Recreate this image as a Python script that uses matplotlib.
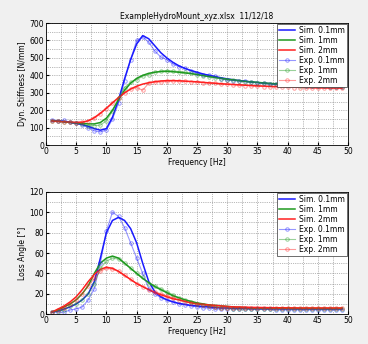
import numpy as np
import matplotlib
matplotlib.use("Agg")
import matplotlib.pyplot as plt
from matplotlib.ticker import MultipleLocator

freq = np.arange(1, 50)

# dynamic stiffness [N/mm]
stiff_sim_01 = [140, 138, 135, 130, 125, 118, 108, 95, 86, 95, 160, 260, 380, 490, 580, 628, 610, 570, 530, 500,
                475, 455, 440, 428, 418, 408, 400, 393, 386, 380, 375, 370, 366, 362, 359, 356, 353, 351, 349, 347,
                345, 343, 342, 340, 339, 338, 337, 336, 335]
stiff_sim_1 = [140, 137, 134, 131, 128, 125, 122, 122, 130, 155, 200, 260, 315, 355, 383, 400, 412, 418, 422, 423,
               421, 418, 414, 410, 405, 399, 393, 388, 383, 378, 374, 370, 366, 363, 360, 357, 354, 352, 350, 348,
               346, 344, 342, 341, 339, 338, 337, 336, 335]
stiff_sim_2 = [138, 136, 134, 132, 131, 132, 140, 158, 183, 212, 243, 273, 300, 322, 338, 350, 358, 364, 368, 370,
               370, 369, 367, 365, 363, 360, 357, 355, 352, 350, 348, 346, 344, 342, 340, 339, 337, 336, 335, 334,
               333, 332, 331, 330, 329, 329, 328, 328, 327]
stiff_exp_01 = [145, 140, 142, 130, 125, 115, 100, 82, 76, 86, 150, 240, 370, 490, 600, 620, 590, 540, 505, 490,
                465, 450, 440, 425, 412, 405, 403, 395, 380, 372, 370, 368, 368, 360, 358, 355, 352, 350, 348, 345,
                345, 343, 340, 340, 338, 337, 336, 336, 335]
stiff_exp_1 = [140, 138, 135, 130, 125, 120, 112, 112, 115, 140, 195, 270, 330, 360, 375, 395, 405, 418, 425, 428,
               425, 422, 418, 412, 405, 398, 392, 387, 380, 375, 372, 368, 364, 360, 358, 355, 352, 350, 348, 346,
               344, 342, 340, 340, 338, 337, 336, 335, 335]
stiff_exp_2 = [140, 138, 135, 132, 128, 130, 138, 155, 180, 210, 240, 270, 300, 320, 330, 315, 355, 360, 362, 365,
               368, 368, 366, 364, 362, 358, 356, 354, 350, 348, 346, 344, 342, 340, 338, 336, 335, 334, 333, 332,
               330, 330, 329, 328, 327, 326, 326, 325, 325]

# loss angle [deg]
loss_sim_01 = [2, 3, 5, 7, 10, 14, 20, 32, 55, 80, 92, 95, 92, 84, 70, 50, 32, 22, 17, 14,
               12, 10.5, 9.5, 8.5, 8, 7.5, 7, 6.5, 6, 6, 5.5, 5.5, 5.5, 5.3, 5.2, 5.2, 5.1, 5.1, 5, 5,
               5, 5, 5, 5, 5, 5, 5, 5, 5]
loss_sim_1 = [2, 4, 7, 10, 14, 20, 28, 40, 50, 55, 57, 55, 50, 45, 40, 35, 31, 27, 24, 21,
              18, 16, 14, 12.5, 11, 10, 9, 8.5, 8, 7.5, 7, 6.5, 6.3, 6, 6, 5.9, 5.8, 5.8, 5.7, 5.7,
              5.6, 5.6, 5.6, 5.5, 5.5, 5.5, 5.5, 5.5, 5.5]
loss_sim_2 = [2, 5, 8, 12, 17, 24, 32, 39, 44, 46, 45, 42, 38, 34, 30, 27, 24, 21, 19, 17,
              15, 14, 12.5, 11, 10, 9.5, 9, 8.5, 8, 7.5, 7, 7, 6.8, 6.6, 6.5, 6.4, 6.3, 6.2, 6.2, 6.1,
              6.1, 6, 6, 6, 6, 6, 6, 6, 6]
loss_exp_01 = [2, 2, 2, 4, 5, 7, 14, 25, 50, 82, 100, 96, 85, 70, 55, 40, 25, 20, 16, 14,
               12, 10, 9, 8, 7, 6, 6, 5, 5, 5, 5, 5, 5, 4.5, 4.5, 4.5, 4.5, 4, 4, 4,
               4, 4, 4, 4, 4, 4, 4, 4, 4]
loss_exp_1 = [2, 3, 4, 8, 10, 14, 20, 30, 45, 52, 55, 54, 50, 45, 40, 36, 30, 28, 25, 22,
              19, 16, 14, 12, 10, 9, 8, 7, 6, 6, 5, 5, 5, 5, 5, 5, 5, 5, 5, 5,
              5, 5, 5, 5, 5, 5, 5, 5, 5]
loss_exp_2 = [2, 4, 6, 10, 14, 20, 28, 35, 42, 45, 44, 42, 38, 34, 30, 27, 24, 22, 20, 18,
              16, 14, 12, 11, 10, 9, 8, 7, 6, 6, 6, 6, 5.5, 5.5, 5.5, 5.5, 5.5, 5.5, 5.5, 5.5,
              5.5, 5.5, 5.5, 5.5, 5.5, 5.5, 5.5, 5.5, 5.5]

labels = ["Sim. 0.1mm", "Sim. 1mm", "Sim. 2mm", "Exp. 0.1mm", "Exp. 1mm", "Exp. 2mm"]
colors = ["#1a1aff", "#1f9a1f", "#ff2020"]
fs = 5.5

fig = plt.figure(figsize=(3.68, 3.44), dpi=100)
fig.patch.set_facecolor("#f0f0f0")
ax1 = fig.add_axes([0.125, 0.578, 0.821, 0.355])
ax2 = fig.add_axes([0.125, 0.087, 0.821, 0.355])


def draw(ax, sims, exps, ymax, ystep, ylabel):
    for y, c, lab in zip(sims, colors, labels[:3]):
        ax.plot(freq, y, color=c, lw=1.1, label=lab)
    for y, c, lab in zip(exps, colors, labels[3:]):
        ax.plot(freq, y, color=c, lw=0.8, alpha=0.45, marker="o", ms=2.5,
                mfc="none", mew=0.7, label=lab)
    ax.set_xlim(0, 50)
    ax.set_ylim(0, ymax)
    ax.xaxis.set_major_locator(MultipleLocator(5))
    ax.xaxis.set_minor_locator(MultipleLocator(2.5))
    ax.yaxis.set_major_locator(MultipleLocator(ystep))
    ax.yaxis.set_minor_locator(MultipleLocator(ystep / 2))
    ax.grid(which="both", color="#777777", ls=":", lw=0.5)
    ax.tick_params(which="both", labelsize=fs, length=2, direction="in", pad=1.5)
    ax.tick_params(which="minor", length=0)
    ax.set_xlabel("Frequency [Hz]", fontsize=fs, labelpad=1)
    ax.set_ylabel(ylabel, fontsize=fs, labelpad=2)
    for s in ax.spines.values():
        s.set_linewidth(0.6)
    leg = ax.legend(loc="upper right", fontsize=fs, handlelength=2.2, borderaxespad=0.15,
                    labelspacing=0.12, fancybox=False, framealpha=1, edgecolor="#333333",
                    borderpad=0.25, handletextpad=0.5)
    leg.get_frame().set_linewidth(0.5)


draw(ax1, [stiff_sim_01, stiff_sim_1, stiff_sim_2], [stiff_exp_01, stiff_exp_1, stiff_exp_2],
     700, 100, "Dyn. Stiffness [N/mm]")
draw(ax2, [loss_sim_01, loss_sim_1, loss_sim_2], [loss_exp_01, loss_exp_1, loss_exp_2],
     120, 20, "Loss Angle [°]")
ax1.set_title("ExampleHydroMount_xyz.xlsx  11/12/18", fontsize=fs, pad=3)

fig.savefig("out.png", dpi=100, facecolor=fig.get_facecolor())
